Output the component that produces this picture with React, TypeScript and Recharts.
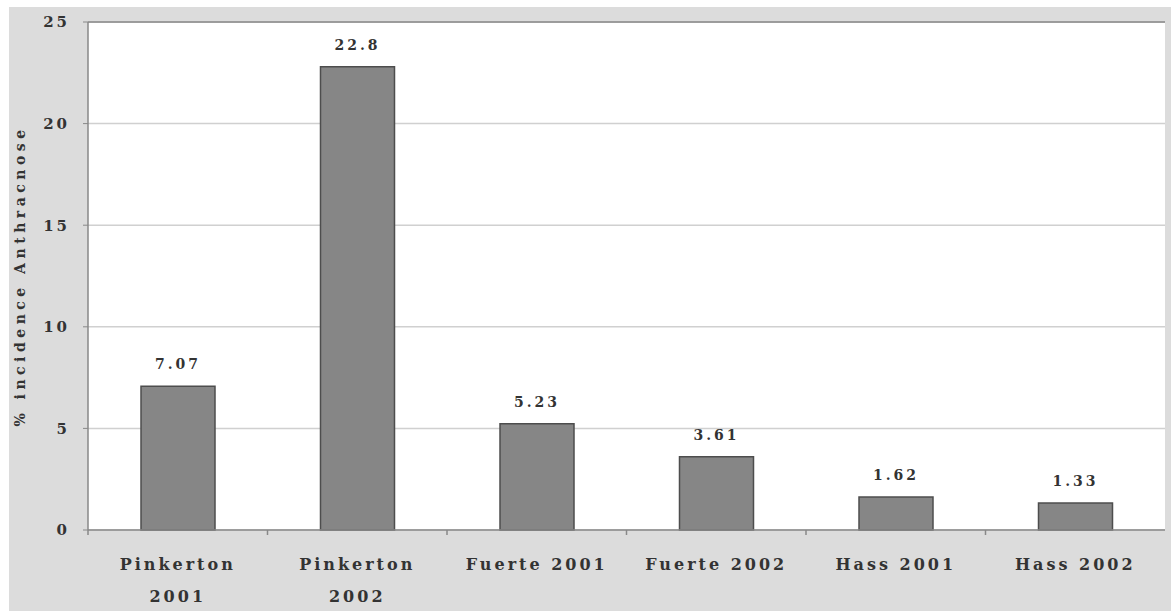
import { BarChart, Bar, XAxis, YAxis, CartesianGrid, LabelList, ReferenceLine, Label } from "recharts";

const cultivars = ["Pinkerton 2001", "Pinkerton 2002", "Fuerte 2001", "Fuerte 2002", "Hass 2001", "Hass 2002"];
const incidence = [7.07, 22.8, 5.23, 3.61, 1.62, 1.33];
const yTicks = [0, 5, 10, 15, 20, 25];

const data = cultivars.map((name, i) => ({ name, value: incidence[i] }));

const FONT = "'DejaVu Serif', serif";
const TEXT = "#333333";

// Pinkerton labels wrap onto two lines; the others stay on one
const CategoryTick = ({ x, y, payload }: any) => {
  const name: string = payload.value;
  const lines = name.startsWith("Pinkerton") ? name.split(" ") : [name];
  const half = payload.offset || 0;
  return (
    <g>
      <line x1={x - half} x2={x - half} y1={y - 8} y2={y - 3} stroke="#888" strokeWidth={1.5} />
      {lines.map((ln, i) => (
        <text
          key={i}
          x={x}
          y={y + 26 + i * 32}
          textAnchor="middle"
          dominantBaseline="central"
          fontFamily={FONT}
          fontWeight="bold"
          fontSize={16}
          letterSpacing={3}
          fill={TEXT}
        >
          {ln}
        </text>
      ))}
    </g>
  );
};

const AxisTitle = ({ viewBox }: any) => {
  const cx = viewBox.x + 11;
  const cy = viewBox.y + viewBox.height / 2;
  return (
    <text
      x={cx}
      y={cy}
      transform={`rotate(-90 ${cx} ${cy})`}
      textAnchor="middle"
      dominantBaseline="central"
      fontFamily={FONT}
      fontWeight="bold"
      fontSize={14}
      letterSpacing={4.5}
      fill={TEXT}
    >
      % incidence Anthracnose
    </text>
  );
};

export default function App() {
  return (
    <div style={{ position: "fixed", left: 9, top: 7, width: 1162, height: 604, background: "#dcdcdc" }}>
      <BarChart width={1162} height={604} data={data} margin={{ top: 15, right: 6, bottom: 0, left: 0 }}>
        <CartesianGrid vertical={false} stroke="#d0d0d0" strokeWidth={1.5} fill="#ffffff" />
        <XAxis
          dataKey="name"
          height={81}
          interval={0}
          axisLine={{ stroke: "#888", strokeWidth: 1.5 }}
          tickLine={false}
          tick={<CategoryTick />}
        />
        <YAxis
          domain={[0, 25]}
          ticks={yTicks}
          width={79}
          axisLine={{ stroke: "#888", strokeWidth: 1.5 }}
          tickLine={{ stroke: "#888" }}
          tickSize={5}
          tickMargin={13}
          tick={{ fontFamily: FONT, fontWeight: "bold", fontSize: 15, fill: TEXT, letterSpacing: 3 }}
        >
          <Label content={<AxisTitle />} />
        </YAxis>
        <YAxis yAxisId="r" orientation="right" domain={[0, 25]} width={0} tick={false} tickLine={false} axisLine={{ stroke: "#888", strokeWidth: 1.5 }} />
        <ReferenceLine y={25} stroke="#888" strokeWidth={1.5} />
        <Bar dataKey="value" fill="#868686" stroke="#4d4d4d" strokeWidth={1.5} barSize={74} isAnimationActive={false}>
          <LabelList
            dataKey="value"
            position="top"
            offset={17}
            fontFamily={FONT}
            fontWeight="bold"
            fontSize={14}
            letterSpacing={3}
            fill={TEXT}
          />
        </Bar>
      </BarChart>
    </div>
  );
}
